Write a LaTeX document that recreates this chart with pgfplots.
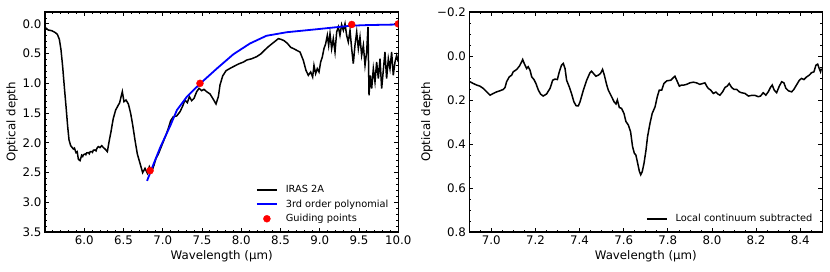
\documentclass[border=0pt]{standalone}
\usepackage{pgfplots}
\pgfplotsset{compat=1.18}
\usepackage{pgfplotstable}
\usepackage{fontspec}
\setmainfont{DejaVu Sans}

\pgfplotstableread{
x y
5.500 0.058
5.542 0.103
5.585 0.114
5.627 0.142
5.657 0.175
5.683 0.260
5.704 0.439
5.725 0.719
5.746 1.056
5.768 1.392
5.789 1.728
5.806 1.952
5.827 2.048
5.861 2.104
5.875 2.090
5.895 2.165
5.910 2.150
5.925 2.277
5.946 2.300
5.967 2.210
5.980 2.230
5.990 2.200
6.010 2.188
6.020 2.200
6.030 2.170
6.052 2.165
6.064 2.185
6.075 2.150
6.094 2.148
6.105 2.160
6.115 2.125
6.137 2.120
6.150 2.135
6.160 2.095
6.179 2.064
6.200 2.080
6.222 2.048
6.244 2.080
6.264 2.104
6.294 2.148
6.320 1.952
6.341 1.812
6.355 1.700
6.370 1.588
6.385 1.520
6.400 1.448
6.420 1.400
6.434 1.364
6.450 1.330
6.464 1.252
6.485 1.140
6.506 1.308
6.532 1.280
6.562 1.347
6.591 1.504
6.617 1.700
6.646 1.952
6.676 2.188
6.710 2.345
6.744 2.502
6.774 2.429
6.804 2.513
6.829 2.401
6.859 2.485
6.889 2.373
6.914 2.261
6.944 2.188
6.973 2.092
7.007 1.980
7.041 1.868
7.071 1.756
7.101 1.627
7.135 1.560
7.177 1.549
7.220 1.476
7.254 1.381
7.283 1.280
7.313 1.325
7.339 1.224
7.368 1.291
7.398 1.252
7.432 1.140
7.462 1.084
7.496 1.123
7.525 1.101
7.559 1.140
7.602 1.179
7.644 1.269
7.678 1.347
7.708 1.224
7.729 1.028
7.763 0.876
7.806 0.787
7.857 0.748
7.899 0.719
7.963 0.675
8.027 0.642
8.069 0.608
8.133 0.586
8.196 0.551
8.247 0.507
8.290 0.450
8.345 0.383
8.387 0.338
8.430 0.293
8.472 0.248
8.506 0.260
8.545 0.282
8.587 0.327
8.629 0.394
8.672 0.420
8.714 0.450
8.748 0.473
8.790 0.613
8.824 0.781
8.854 0.865
8.884 0.809
8.909 0.893
8.926 0.697
8.947 0.837
8.968 0.753
8.990 0.809
9.011 0.641
9.032 0.557
9.053 0.417
9.075 0.333
9.096 0.192
9.113 0.361
9.130 0.164
9.151 0.417
9.172 0.248
9.194 0.473
9.215 0.136
9.236 0.052
9.257 0.192
9.278 0.013
9.300 0.108
9.321 -0.004
9.342 0.192
9.363 0.304
9.385 0.108
9.406 0.417
9.427 0.669
9.448 0.361
9.470 0.136
9.491 0.417
9.512 0.220
9.533 0.529
9.555 0.361
9.576 0.697
9.597 0.473
9.614 0.052
9.627 1.201
9.644 0.865
9.661 1.089
9.682 0.753
9.703 0.977
9.724 0.641
9.746 0.921
9.767 0.585
9.788 1.089
9.809 0.781
9.830 0.473
9.851 0.921
9.873 0.585
9.894 0.753
9.915 0.473
9.936 0.865
9.958 0.641
9.979 0.529
10.000 0.641
}\irasdata

\pgfplotstableread{
x y
6.80 2.64
6.87 2.40
6.97 2.07
7.10 1.70
7.18 1.45
7.31 1.22
7.48 1.00
7.69 0.75
7.90 0.51
8.11 0.33
8.32 0.20
8.58 0.14
8.96 0.09
9.40 0.03
9.60 0.02
10.00 0.01
}\polydata

\pgfplotstableread{
x y
6.838 2.468
7.474 1.000
9.407 0.010
10.000 0.000
}\guidedata

\pgfplotstableread{
x y
6.903 0.117
6.918 0.125
6.933 0.132
6.948 0.137
6.963 0.147
6.979 0.163
6.994 0.178
7.009 0.170
7.024 0.163
7.039 0.158
7.054 0.152
7.062 0.143
7.069 0.117
7.081 0.095
7.092 0.087
7.099 0.072
7.115 0.061
7.127 0.046
7.137 0.027
7.142 0.016
7.149 0.034
7.160 0.057
7.167 0.049
7.175 0.064
7.183 0.095
7.193 0.107
7.202 0.125
7.213 0.155
7.223 0.173
7.235 0.182
7.250 0.173
7.266 0.147
7.278 0.110
7.288 0.105
7.299 0.107
7.308 0.072
7.318 0.042
7.326 0.034
7.334 0.057
7.341 0.110
7.353 0.140
7.364 0.173
7.374 0.208
7.384 0.226
7.394 0.227
7.402 0.208
7.417 0.155
7.432 0.110
7.447 0.076
7.454 0.069
7.465 0.082
7.474 0.092
7.485 0.087
7.495 0.079
7.504 0.061
7.512 0.087
7.523 0.132
7.530 0.155
7.545 0.185
7.556 0.208
7.565 0.218
7.571 0.200
7.580 0.234
7.590 0.238
7.601 0.261
7.610 0.298
7.621 0.314
7.631 0.344
7.640 0.412
7.648 0.442
7.655 0.450
7.663 0.487
7.671 0.525
7.677 0.540
7.684 0.525
7.692 0.487
7.701 0.427
7.708 0.366
7.719 0.306
7.729 0.261
7.742 0.231
7.752 0.185
7.761 0.155
7.772 0.155
7.782 0.125
7.795 0.113
7.813 0.110
7.825 0.098
7.832 0.092
7.840 0.110
7.852 0.137
7.862 0.132
7.873 0.132
7.885 0.129
7.900 0.122
7.915 0.119
7.930 0.122
7.945 0.129
7.958 0.125
7.968 0.122
7.976 0.137
7.983 0.147
7.994 0.155
8.006 0.170
8.018 0.164
8.027 0.173
8.036 0.178
8.048 0.163
8.059 0.143
8.069 0.137
8.078 0.125
8.089 0.143
8.100 0.152
8.112 0.152
8.124 0.163
8.134 0.167
8.149 0.170
8.165 0.182
8.180 0.179
8.195 0.179
8.210 0.185
8.220 0.182
8.232 0.167
8.244 0.178
8.255 0.163
8.265 0.143
8.273 0.132
8.282 0.155
8.293 0.167
8.305 0.137
8.316 0.117
8.326 0.122
8.335 0.147
8.346 0.158
8.361 0.163
8.371 0.152
8.383 0.132
8.396 0.110
8.406 0.102
8.417 0.107
8.429 0.095
8.441 0.087
8.451 0.076
8.462 0.072
8.471 0.042
8.479 0.037
8.486 0.057
8.492 0.072
8.496 0.057
}\localdata

\pgfplotsset{
  myax/.style={
    scale only axis, height=220bp,
    y dir=reverse,
    axis line style={line width=1.3bp},
    tick align=inside, xtick pos=both, ytick pos=both,
    xticklabel pos=lower, yticklabel pos=left,
    major tick length=4bp, minor tick length=2bp,
    every tick/.style={line width=0.8bp, black},
    tick label style={font=\fontsize{11.8bp}{14bp}\selectfont},
    label style={font=\fontsize{11.8bp}{14bp}\selectfont},
    xlabel style={at={(0.5,-0.112)}, anchor=center},
    legend style={draw=none, fill=none, at={(0.972,0.0386)}, anchor=south east,
      inner sep=0pt, outer sep=0pt, row sep=5bp,
      font=\fontsize{9.8bp}{12bp}\selectfont,
      nodes={inner sep=0pt, text height=7.5bp, text depth=2bp},
      /tikz/every odd column/.append style={column sep=8bp}},
    legend cell align=left,
    legend image code/.code={\draw[##1] (0bp,0bp) -- (20bp,0bp);},
    clip marker paths=true,
  },
  dotlegend/.style={
    legend image code/.code={\draw[mark repeat=2,mark phase=2,##1] plot coordinates {(0bp,0bp) (10bp,0bp) (20bp,0bp)};}
  },
}

\begin{document}
\begin{tikzpicture}
\useasboundingbox (0,0) rectangle (830bp,272bp);
\begin{axis}[myax, width=353.3bp, at={(221.65bp,150bp)}, anchor=center,
  xmin=5.5, xmax=10.0, ymin=-0.2, ymax=3.5,
  xtick={6.0,6.5,7.0,7.5,8.0,8.5,9.0,9.5,10.0},
  xticklabels={6.0,6.5,7.0,7.5,8.0,8.5,9.0,9.5,10.0},
  minor xtick={5.5,5.6,...,10.0},
  ytick={0.0,0.5,1.0,1.5,2.0,2.5,3.0,3.5},
  yticklabels={0.0,0.5,1.0,1.5,2.0,2.5,3.0,3.5},
  minor ytick={-0.2,-0.1,...,3.5},
  xlabel={Wavelength (μm)}, ylabel={Optical depth},
  ylabel style={at={(-0.0934,0.5)}, anchor=center},
]
\addplot[black, line width=1.5bp] table[x=x,y=y]{\irasdata};
\addlegendentry{IRAS 2A}
\addplot[blue, line width=1.8bp] table[x=x,y=y]{\polydata};
\addlegendentry{3rd order polynomial}
\addplot[only marks, mark=*, mark size=3.5bp, color=red, dotlegend]
  table[x=x,y=y]{\guidedata};
\addlegendentry{Guiding points}
\end{axis}

\begin{axis}[myax, width=353bp, at={(645.8bp,150bp)}, anchor=center,
  xmin=6.9, xmax=8.5, ymin=-0.2, ymax=0.8,
  xtick={7.0,7.2,7.4,7.6,7.8,8.0,8.2,8.4},
  xticklabels={7.0,7.2,7.4,7.6,7.8,8.0,8.2,8.4},
  minor xtick={6.9,6.95,...,8.5},
  ytick={-0.2,0.0,0.2,0.4,0.6,0.8},
  yticklabels={−0.2,0.0,0.2,0.4,0.6,0.8},
  minor ytick={-0.2,-0.15,...,0.8},
  xlabel={Wavelength (μm)}, ylabel={Optical depth},
  ylabel style={at={(-0.12,0.5)}, anchor=center},
]
\addplot[black, line width=1.5bp] table[x=x,y=y]{\localdata};
\addlegendentry{Local continuum subtracted}
\end{axis}
\end{tikzpicture}
\end{document}
